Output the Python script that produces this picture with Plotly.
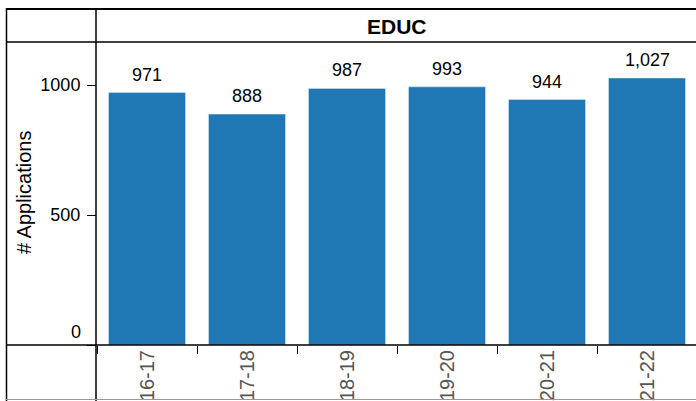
import plotly.graph_objects as go

categories = ["16-17", "17-18", "18-19", "19-20", "20-21", "21-22"]
applications = [971, 888, 987, 993, 944, 1027]
panel_title = "EDUC"
y_title = "# Applications"
y_ticks = [0, 500, 1000]
y_ticktext = ["", "500", "1000"]

W, H = 696, 401
L, R, T, B = 97, 696, 42, 345

def px(x):
    return (x - L) / (R - L)

def py(y):
    return (B - y) / (B - T)

fig = go.Figure(go.Bar(
    x=categories, y=applications,
    marker_color="#1f77b4", width=0.77,
))

shapes = []
def line(x0, y0, x1, y1, w=1.5, c="black"):
    shapes.append(dict(type="line", xref="paper", yref="paper",
                       x0=px(x0), y0=py(y0), x1=px(x1), y1=py(y1),
                       line=dict(color=c, width=w)))

line(6, 9, 700, 9, 2)
line(6, 42, 700, 42, 1.5)
line(6.5, 8, 6.5, 401, 1.5)
line(96, 8, 96, 401, 1.5)
line(6, 345, 700, 345, 1.5)
line(6, 399.5, 700, 399.5, 1, "#999999")

annotations = [
    dict(text="<b>" + panel_title + "</b>", xref="paper", yref="paper",
         x=px(397), y=py(26), xanchor="center", yanchor="middle",
         showarrow=False, font=dict(size=21)),
    dict(text=y_title, xref="paper", yref="paper", x=px(24), y=py(193),
         xanchor="center", yanchor="middle",
         showarrow=False, textangle=-90, font=dict(size=20)),
    dict(text=str(y_ticks[0]), xref="paper", yref="y", x=px(83), y=y_ticks[0],
         xanchor="right", yanchor="bottom", yshift=1,
         showarrow=False, font=dict(size=18)),
]
for c, v in zip(categories, applications):
    annotations.append(dict(text=f"{v:,}", x=c, y=v, xref="x", yref="y",
                            showarrow=False, yanchor="bottom", yshift=6,
                            font=dict(size=18)))

fig.update_layout(
    width=W, height=H,
    margin=dict(l=L, r=W - R, t=T, b=H - B),
    paper_bgcolor="white", plot_bgcolor="white",
    font=dict(family="Liberation Sans, Arial", size=18, color="black"),
    showlegend=False,
    shapes=shapes,
    annotations=annotations,
    xaxis=dict(range=[-0.5, 5.49], showgrid=False, ticks="outside",
               tickson="boundaries", ticklen=8, tickcolor="black",
               tickangle=-90, tickfont=dict(color="#555555", size=20),
               showline=False, zeroline=False),
    yaxis=dict(range=[0, 1165.4], tickvals=y_ticks, ticktext=y_ticktext,
               showgrid=False, ticks="outside", ticklen=9, tickcolor="black",
               showline=False, zeroline=False, ticklabelstandoff=3,
               tickfont=dict(size=18)),
)

fig.write_html("out.html", config={"displayModeBar": False},
               post_script="document.body.style.margin='0';")
